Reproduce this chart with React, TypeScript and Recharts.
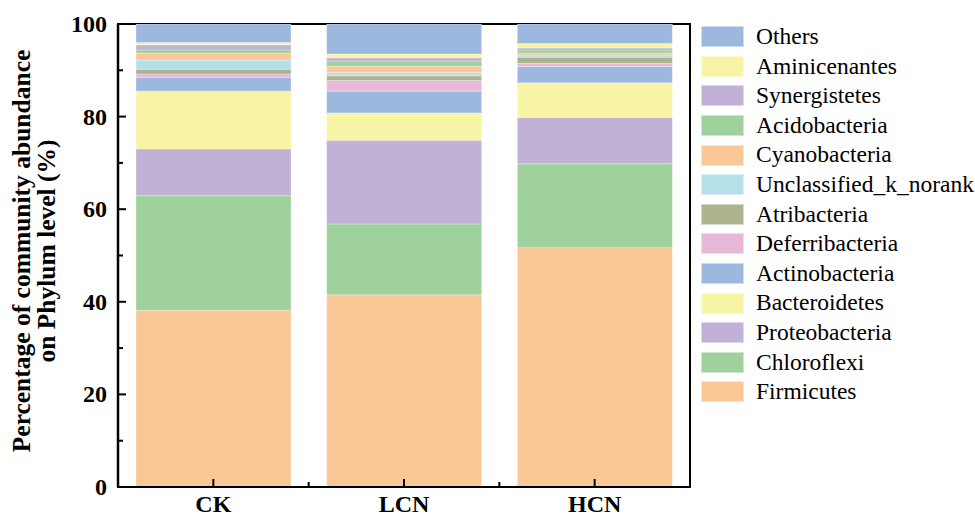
import React from 'react';
import { BarChart, Bar, XAxis, YAxis, ReferenceArea } from 'recharts';

const categories = ['CK', 'LCN', 'HCN'];
const phyla = [
  'Firmicutes', 'Chloroflexi', 'Proteobacteria', 'Bacteroidetes', 'Actinobacteria',
  'Deferribacteria', 'Atribacteria', 'Unclassified_k_norank', 'Cyanobacteria',
  'Acidobacteria', 'Synergistetes', 'Aminicenantes', 'Others',
];
const ckValues = [38.2, 24.7, 10.1, 12.5, 3.0, 0.7, 1.0, 2.0, 1.5, 0.7, 1.1, 0.5, 4.0];
const lcnValues = [41.5, 15.3, 18.1, 5.9, 4.7, 2.3, 1.0, 0.7, 1.4, 1.1, 0.7, 0.8, 6.5];
const hcnValues = [51.7, 18.1, 10.0, 7.5, 3.5, 0.7, 1.3, 0.5, 0.4, 0.7, 0.4, 1.0, 4.2];
const colors = [
  '#FAC897', '#9ED19B', '#C2B1D6', '#F7F4A5', '#9CB8DF', '#E8B9D7', '#ADB38E',
  '#B5E0E8', '#FAC897', '#9ED19B', '#C2B1D6', '#F7F4A5', '#9CB8DF',
];
const yTicks = [0, 10, 20, 30, 40, 50, 60, 70, 80, 90, 100];

const valuesByCategory = [ckValues, lcnValues, hcnValues];
const data = categories.map((name, ci) => {
  const row: Record<string, any> = { name };
  phyla.forEach((p, pi) => { row[p] = valuesByCategory[ci][pi]; });
  return row;
});

const W = 975;
const H = 516;
const M = { top: 24, right: 285, left: 0, bottom: 0 };
const Y_AXIS_W = 118;
const X_AXIS_H = 29;
const PLOT_W = W - M.left - M.right - Y_AXIS_W;
const BAND = PLOT_W / categories.length;
const FONT = '"Liberation Serif", "Times New Roman", serif';
const Y_TICK_MARGIN = 10;
const X_TICK_MARGIN = 10;

const YTick = (props: any) => {
  const { x, y, payload } = props;
  const axisX = x + Y_TICK_MARGIN;
  const major = payload.value % 20 === 0;
  return (
    <g>
      <line x1={axisX} x2={axisX + (major ? 8 : 5)} y1={y} y2={y} stroke="#000" strokeWidth={2} />
      {major && (
        <text x={x - 1} y={y} dy={8} textAnchor="end" fontFamily={FONT} fontWeight="bold" fontSize={24} fill="#000">
          {payload.value}
        </text>
      )}
    </g>
  );
};

const XTick = (props: any) => {
  const { x, y, payload, index } = props;
  const axisY = y - X_TICK_MARGIN;
  return (
    <g>
      <line x1={x} x2={x} y1={axisY} y2={axisY - 8} stroke="#000" strokeWidth={2} />
      {index < categories.length - 1 && (
        <line x1={x + BAND / 2} x2={x + BAND / 2} y1={axisY} y2={axisY - 5} stroke="#000" strokeWidth={2} />
      )}
      <text x={x} y={axisY + 25} textAnchor="middle" fontFamily={FONT} fontWeight="bold" fontSize={24} fill="#000">
        {payload.value}
      </text>
    </g>
  );
};

const YLabel = () => (
  <g transform="translate(0,251)">
    <text transform="rotate(-90)" x={0} y={30} textAnchor="middle" fontFamily={FONT} fontWeight="bold" fontSize={25.5} fill="#000">
      Percentage of community abundance
    </text>
    <text transform="rotate(-90)" x={0} y={55} textAnchor="middle" fontFamily={FONT} fontWeight="bold" fontSize={25.5} fill="#000">
      on Phylum level (%)
    </text>
  </g>
);

const legendItems = phyla.map((p, i) => ({ name: p, color: colors[i] })).reverse();

export default function App() {
  return (
    <div style={{ position: 'absolute', left: 0, top: 0, width: W, height: H, background: '#fff' }}>
      <BarChart width={W} height={H} data={data} margin={M}>
        <XAxis
          dataKey="name"
          height={X_AXIS_H}
          tickLine={false}
          tickSize={0}
          tickMargin={X_TICK_MARGIN}
          tick={<XTick />}
          axisLine={{ stroke: '#000', strokeWidth: 2 }}
          interval={0}
        />
        <YAxis
          type="number"
          domain={[0, 100]}
          ticks={yTicks}
          width={Y_AXIS_W}
          tickLine={false}
          tickSize={0}
          tickMargin={Y_TICK_MARGIN}
          tick={<YTick />}
          axisLine={{ stroke: '#000', strokeWidth: 2.5 }}
          interval={0}
          allowDataOverflow
          label={{ content: <YLabel /> }}
        />
        {phyla.map((p, i) => (
          <Bar
            key={p}
            dataKey={p}
            stackId="s"
            fill={colors[i]}
            stroke="#ffffff"
            strokeOpacity={0.35}
            strokeWidth={0.8}
            barSize={155}
            isAnimationActive={false}
          />
        ))}
        <ReferenceArea y1={0} y2={100} fill="none" stroke="#000" strokeWidth={2} ifOverflow="visible" />
      </BarChart>
      <div style={{ position: 'absolute', left: 701, top: 22, fontFamily: FONT, fontSize: 23.5, color: '#000' }}>
        {legendItems.map((it) => (
          <div key={it.name} style={{ display: 'flex', alignItems: 'center', height: 29.6, whiteSpace: 'nowrap' }}>
            <div style={{ width: 43, height: 21, background: it.color, border: '1px solid rgba(255,255,255,0.5)', boxSizing: 'border-box', marginRight: 12, flex: 'none' }} />
            <span style={{ lineHeight: '29.6px' }}>{it.name}</span>
          </div>
        ))}
      </div>
    </div>
  );
}
